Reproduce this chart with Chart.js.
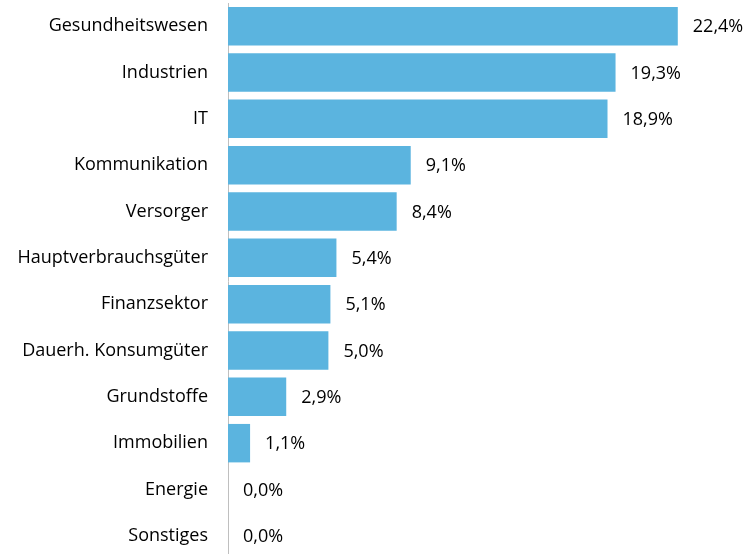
<!DOCTYPE html>
<html>
<head>
<meta charset="utf-8">
<script src="https://cdn.jsdelivr.net/npm/chart.js"></script>
<style>
  html, body { margin: 0; padding: 0; background: #fff; width: 751px; height: 554px; overflow: hidden; }
  canvas { display: block; }
</style>
</head>
<body>
<canvas id="sectorChart" width="751" height="559"></canvas>
<script>
    // ─── DATA ───────────────────────────────────────────────
    const sectors = ['Gesundheitswesen', 'Industrien', 'IT', 'Kommunikation', 'Versorger',
        'Hauptverbrauchsgüter', 'Finanzsektor', 'Dauerh. Konsumgüter', 'Grundstoffe',
        'Immobilien', 'Energie', 'Sonstiges'];
    const weights = [22.4, 19.3, 18.9, 9.1, 8.4, 5.4, 5.1, 5.0, 2.9, 1.1, 0.0, 0.0];

    const FONT = '"Open Sans", sans-serif';

    // ─── PLUGIN: value labels at bar end ────────────────────
    const valueLabels = {
        id: 'valueLabels',
        afterDatasetsDraw(chart) {
            const ctx = chart.ctx;
            const meta = chart.getDatasetMeta(0);
            ctx.save();
            ctx.font = '18px ' + FONT;
            ctx.fillStyle = '#000';
            ctx.textAlign = 'left';
            ctx.textBaseline = 'middle';
            meta.data.forEach((bar, i) => {
                const txt = weights[i].toFixed(1).replace('.', ',') + '%';
                ctx.fillText(txt, bar.x + 15, bar.y + 1);
            });
            ctx.restore();
        }
    };

    // canvas is 5px taller than the window: the last row is cut off at the bottom edge, like the original
    new Chart(document.getElementById('sectorChart'), {
        type: 'bar',
        data: {
            labels: sectors,
            datasets: [{
                data: weights,
                backgroundColor: '#5bb4df',
                borderWidth: 0,
                categoryPercentage: 1,
                barPercentage: 0.83
            }]
        },
        options: {
            indexAxis: 'y',
            responsive: false,
            animation: false,
            layout: { padding: { top: 3, bottom: 0, left: 0, right: 21 } },
            plugins: { legend: { display: false }, tooltip: { enabled: false } },
            scales: {
                x: { display: false, min: 0, max: 25 },
                y: {
                    afterFit: (scale) => {
                        scale.width = 228;
                        scale.paddingTop = 0;
                        scale.paddingBottom = 0;
                    },
                    grid: { display: true, drawOnChartArea: false, drawTicks: false },
                    border: { display: true, color: '#bfbfbf', width: 1 },
                    ticks: { color: '#000', padding: 20, font: { family: FONT, size: 18 } }
                }
            }
        },
        plugins: [valueLabels]
    });
</script>
</body>
</html>
